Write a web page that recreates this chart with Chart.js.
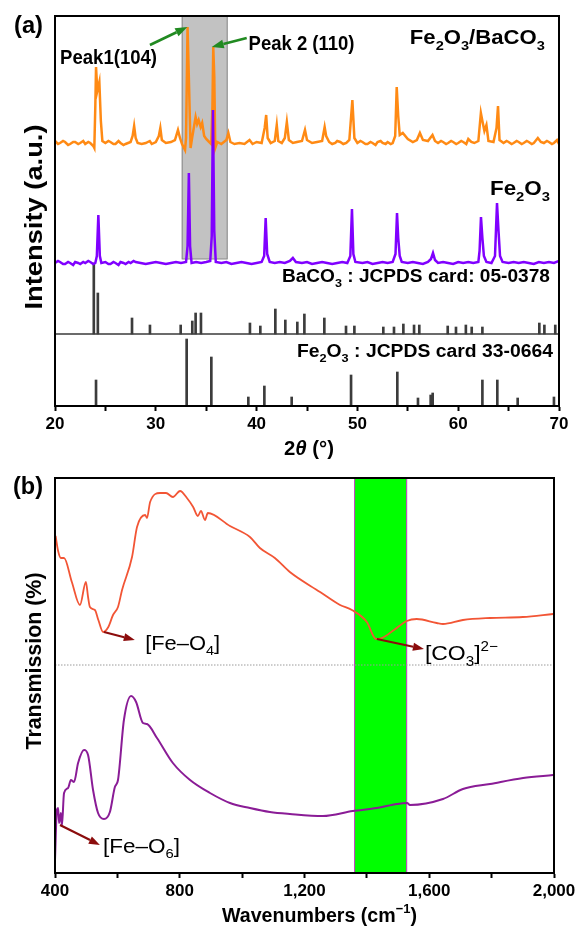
<!DOCTYPE html>
<html>
<head>
<meta charset="utf-8">
<script src="https://cdn.jsdelivr.net/npm/chart.js@4.4.1/dist/chart.umd.min.js"></script>
<style>
html,body{margin:0;padding:0;background:#fff;}
#wrap{position:relative;width:580px;height:926px;overflow:hidden;}
#ca{position:absolute;left:0;top:0;}
#cb{position:absolute;left:0;top:462px;}
</style>
</head>
<body>
<div id="wrap">
<canvas id="ca" width="580" height="462"></canvas>
<canvas id="cb" width="580" height="464"></canvas>
</div>
<script>
// ---------------- DATA ----------------
// (a) XRD
const xrdTicks = [20, 30, 40, 50, 60, 70];
const orangeTheta = [20.0,20.3,20.5,20.8,21.0,21.3,21.5,21.8,22.0,22.3,22.5,22.8,23.0,23.3,23.5,23.8,23.9,
24.0,24.07,24.2,24.4,24.55,24.7,25.0,25.3,25.5,25.8,26.0,26.3,26.5,26.8,
27.0,27.5,27.7,27.85,28.0,28.2,28.6,29.0,29.4,29.6,
30.0,30.3,30.45,30.6,31.0,31.5,31.9,32.2,32.4,32.6,
32.9,33.0,33.15,33.3,33.45,33.6,33.8,33.95,34.1,34.25,
34.45,34.6,34.8,35.0,35.3,35.5,35.62,35.7,35.8,35.9,
36.1,36.5,37.0,37.2,37.4,37.8,38.3,38.8,39.3,39.6,
40.0,40.5,40.8,40.95,41.1,41.4,41.8,42.0,42.15,42.5,
42.8,43.0,43.2,43.6,44.0,44.5,44.8,45.0,45.5,46.0,
46.5,46.75,46.9,47.2,47.5,47.8,48.0,48.3,48.6,48.9,49.2,49.5,49.7,
50.0,50.3,50.5,50.8,51.0,51.3,51.5,51.8,52.0,52.3,52.5,52.8,53.0,53.3,53.5,53.75,53.9,
54.05,54.2,54.5,55.0,55.5,55.9,56.2,56.5,57.0,57.45,
57.7,58.0,58.3,58.5,58.8,59.0,59.3,59.5,59.8,60.0,60.3,60.5,60.8,61.0,61.3,61.6,62.0,
62.25,62.4,62.6,62.8,63.0,63.5,63.8,63.95,64.1,64.5,
64.8,65.0,65.3,65.5,65.8,66.0,66.3,66.5,66.8,67.0,67.3,67.5,67.9,68.2,68.5,68.8,69.0,
69.3,69.5,69.8,70.0];
const orangeCounts = [265,262,263,265,264,261,262,264,264,262,263,265,262,264,263,260,258,
300,339,315,324,285,265,263,265,264,262,262,265,263,261,
262,264,270,280,268,263,262,263,265,262,
264,270,278,266,263,264,266,276,268,262,
256,268,379,320,258,268,280,289,282,286,
279,283,270,267,264,262,300,359,330,258,
264,262,266,273,264,262,263,262,266,262,
264,263,278,291,268,263,265,281,265,263,
268,284,266,263,264,265,276,266,263,264,
265,279,270,264,262,263,265,264,262,263,266,306,268,
263,265,264,262,262,264,263,261,264,265,263,262,264,262,263,270,319,
290,271,273,267,264,266,273,266,265,271,
265,263,265,264,262,263,265,264,262,263,265,264,262,267,264,263,265,
293,285,275,281,265,264,278,300,266,263,
265,264,262,263,265,264,262,263,265,264,262,263,268,264,263,265,264,
262,263,266,262];
const purpleTheta = [20.0,20.3,20.5,20.8,21.0,21.3,21.5,21.8,22.0,22.3,22.5,22.8,23.0,23.3,23.5,23.8,24.0,24.15,
24.3,24.45,24.6,25.0,25.3,25.5,25.8,26.0,26.3,26.5,26.8,27.0,27.3,27.5,27.8,28.0,
28.5,29.0,29.5,30.0,30.5,31.0,31.5,32.0,32.5,33.0,
33.15,33.28,33.4,33.55,34.0,34.5,35.0,35.4,35.55,35.67,
35.8,35.95,36.5,37.0,37.5,38.0,38.5,39.0,39.5,40.0,
40.5,40.75,40.9,41.05,41.3,41.8,42.3,42.8,43.3,43.6,
43.9,44.5,45.0,45.5,46.0,46.5,47.0,47.5,48.0,48.5,
49.0,49.3,49.46,49.6,49.8,50.5,51.0,51.5,52.0,52.5,
53.0,53.5,53.78,53.93,54.05,54.2,54.4,55.0,55.5,56.0,
56.5,57.0,57.3,57.5,57.7,58.0,58.5,59.0,59.5,60.0,
60.5,61.0,61.5,62.0,62.12,62.26,62.4,62.55,62.8,63.3,
63.65,63.85,64.0,64.15,64.4,65.0,65.5,66.0,66.5,67.0,
67.5,68.0,68.5,69.0,69.5,70.0];
const purpleCounts = [143,145,144,142,142,144,143,141,144,143,142,144,143,145,144,142,143,150,
191,150,143,144,142,142,144,143,141,144,143,142,144,143,145,144,
143,142,143,144,143,142,143,144,143,144,
160,233,160,143,144,143,144,145,170,296,
175,144,143,144,142,143,144,143,142,143,
144,150,188,152,144,143,144,143,145,148,
144,143,144,142,143,144,143,142,143,144,
143,150,197,152,144,143,144,142,143,144,
143,144,152,193,168,150,144,143,144,143,
142,144,147,153,146,143,144,143,142,144,
143,144,143,144,155,189,168,150,144,143,
150,203,175,150,144,143,144,143,144,143,
142,144,143,144,143,145];
// reference cards (stick patterns)
const bacoBase = 72;
const bacoPos = [23.85,24.25,27.64,29.42,32.47,33.62,33.95,34.48,39.34,40.37,41.86,42.85,44.04,44.74,46.72,48.87,49.7,52.57,53.63,54.56,55.62,56.14,58.96,59.78,60.76,61.34,62.4,68.05,68.55,69.63];
const bacoTop = [143,113,88,81,81,85,93,93,83,80,97,86,84,92,88,80,80,79,79,82,81,81,80,79,81,79,79,83,81,81];
const hemBase = 0;
const hemPos = [24.07,33.06,35.51,39.18,40.77,43.48,49.37,53.96,56.01,57.27,57.47,62.4,63.88,65.9,69.5];
const hemTop = [26,67,49,9,20,9,31,34,8,11,13,26,26,8,9];

// (b) FTIR
const ftirTicks = [400, 800, 1200, 1600, 2000];
const ftirWaveA = [402,410,419,429,454,480,499,506,512,528,539,554,571,586,602,615,647,663,689,695,705,737,756,778,801,823,843,858,868,881,890,961,1025,1057,1105,1153,1250,1314,1352,1400,1429,1448,1487,1528,1560,1624,1644,1708,1795,1900,1997];
const ftirTransA = [337,322,315,315,291,268,291,276,266,263,253,241,246,258,266,283,316,346,358,355,371,380,380,376,382,375,366,357,362,353,360,347,336,325,315,301,281,268,263,251,234,235,243,252,254,250,249,253,255,256,259];
const ftirWaveB = [400,406,410,413,419,422,429,442,451,461,474,493,506,522,538,557,576,592,602,621,644,660,682,695,727,778,833,897,961,1025,1089,1153,1259,1355,1432,1497,1529,1538,1644,1708,1795,1901,1997];
const ftirTransB = [13,63,65,50,60,47,80,85,93,91,110,123,118,83,60,54,61,86,93,153,177,171,150,149,135,110,93,80,70,65,61,59,57,62,65,69,70,68,74,84,89,95,98];
const carbonateBand = [1359, 1529];
const xrdBand = [32.57, 37.13];
const refLine = 208;

// ---------------- HELPERS ----------------
const FAM = '"Liberation Sans", Arial, Helvetica, sans-serif';
Chart.defaults.font.family = FAM;
Chart.defaults.color = '#000';

function rich(ctx, parts, x, y, size, o = {}) {
  const weight = o.weight || 'bold';
  const segs = parts.map(p => {
    if (typeof p === 'string') p = {t: p};
    const s = (p.sub || p.sup) ? size * 0.66 : size;
    const font = (p.it ? 'italic ' : '') + weight + ' ' + s + 'px ' + FAM;
    ctx.font = font;
    return {t: p.t, font, w: ctx.measureText(p.t).width, dy: p.sub ? size * 0.27 : (p.sup ? -size * 0.42 : 0)};
  });
  const natural = segs.reduce((a, s) => a + s.w, 0);
  const sx = o.width ? o.width / natural : 1;
  const total = natural * sx;
  ctx.save();
  ctx.translate(x, y);
  if (o.rotate) ctx.rotate(o.rotate);
  const start = o.align === 'center' ? -total / 2 : (o.align === 'right' ? -total : 0);
  ctx.translate(start, 0);
  ctx.scale(sx, 1);
  ctx.fillStyle = o.color || '#000';
  ctx.textBaseline = 'alphabetic';
  ctx.textAlign = 'left';
  let cx = 0;
  for (const s of segs) { ctx.font = s.font; ctx.fillText(s.t, cx, s.dy); cx += s.w; }
  ctx.restore();
}

function arrow(ctx, x0, y0, x1, y1, color, lw, hl, hw) {
  const a = Math.atan2(y1 - y0, x1 - x0);
  const bx = x1 - hl * Math.cos(a), by = y1 - hl * Math.sin(a);
  ctx.save();
  ctx.strokeStyle = color; ctx.fillStyle = color; ctx.lineWidth = lw; ctx.lineCap = 'butt';
  ctx.beginPath(); ctx.moveTo(x0, y0); ctx.lineTo(bx, by); ctx.stroke();
  ctx.beginPath(); ctx.moveTo(x1, y1);
  ctx.lineTo(bx + hw / 2 * Math.sin(a), by - hw / 2 * Math.cos(a));
  ctx.lineTo(bx - hw / 2 * Math.sin(a), by + hw / 2 * Math.cos(a));
  ctx.closePath(); ctx.fill();
  ctx.restore();
}

function pts(xs, ys) { return xs.map((x, i) => ({x, y: ys[i]})); }
function sticks(xs, tops, base) { return xs.map((x, i) => ({x, y: [base, tops[i]]})); }

function boxPlugin(id) {
  return {
    id,
    afterDraw(chart) {
      const {ctx, chartArea: a} = chart;
      ctx.save();
      ctx.strokeStyle = '#000'; ctx.lineWidth = 2;
      ctx.strokeRect(a.left, a.top, a.right - a.left, a.bottom - a.top);
      ctx.restore();
    }
  };
}

// ---------------- PANEL (a) ----------------
const panelA = {
  id: 'panelA',
  beforeDatasetsDraw(chart) {
    const {ctx, chartArea: a, scales: {x, y}} = chart;
    ctx.save();
    const x0 = x.getPixelForValue(xrdBand[0]), x1 = x.getPixelForValue(xrdBand[1]);
    const yb = y.getPixelForValue(147);
    ctx.fillStyle = '#c2c2c2';
    ctx.fillRect(x0, a.top, x1 - x0, yb - a.top);
    ctx.strokeStyle = '#8a8a8a'; ctx.lineWidth = 1;
    ctx.strokeRect(x0 + 0.5, a.top, x1 - x0 - 1, yb - a.top);
    const ys = y.getPixelForValue(bacoBase);
    ctx.strokeStyle = '#3a3a3a'; ctx.lineWidth = 1.3;
    ctx.beginPath(); ctx.moveTo(a.left, ys); ctx.lineTo(a.right, ys); ctx.stroke();
    ctx.restore();
  },
  afterDraw(chart) {
    const {ctx, chartArea: a, scales: {x, y}} = chart;
    const X = v => x.getPixelForValue(v), Y = v => y.getPixelForValue(v);
    arrow(ctx, X(29.42), Y(361), X(33.13), Y(379), '#218a21', 2.6, 12, 9);
    arrow(ctx, X(39.02), Y(368), X(35.55), Y(359), '#218a21', 2.6, 12, 9);
    rich(ctx, ['Peak1(104)'], X(20.5), Y(342), 20, {width: 97});
    rich(ctx, ['Peak 2 (110)'], X(39.2), Y(356), 21, {width: 106});
    rich(ctx, ['Fe', {t: '2', sub: 1}, 'O', {t: '3', sub: 1}, '/BaCO', {t: '3', sub: 1}], X(55.2), Y(362), 20.5, {width: 135});
    rich(ctx, ['Fe', {t: '2', sub: 1}, 'O', {t: '3', sub: 1}], X(63.15), Y(211), 20.5, {width: 60});
    rich(ctx, ['BaCO', {t: '3', sub: 1}, ' : JCPDS card: 05-0378'], X(69.1), Y(124), 17.5, {width: 268, align: 'right'});
    rich(ctx, ['Fe', {t: '2', sub: 1}, 'O', {t: '3', sub: 1}, ' : JCPDS card 33-0664'], X(44.0), Y(49), 17.5, {width: 256});
    rich(ctx, ['(a)'], 14, a.top + 17, 23, {width: 29});
    rich(ctx, ['2', {t: 'θ', it: 1}, ' (°)'], (a.left + a.right) / 2 + 2, a.bottom + 49, 20, {width: 50, align: 'center'});
    rich(ctx, ['Intensity (a.u.)'], 41.5, a.top + 201, 23, {width: 185, align: 'center', rotate: -Math.PI / 2});
  }
};

new Chart(document.getElementById('ca'), {
  type: 'line',
  data: {
    datasets: [
      {label: 'Fe2O3', data: pts(purpleTheta, purpleCounts), borderColor: '#8000ff', borderWidth: 2.5, pointRadius: 0, tension: 0, order: 0},
      {label: 'Fe2O3/BaCO3', data: pts(orangeTheta, orangeCounts), borderColor: '#ff8a14', borderWidth: 2.5, pointRadius: 0, tension: 0, order: 1},
      {type: 'bar', label: 'BaCO3 JCPDS 05-0378', data: sticks(bacoPos, bacoTop, bacoBase), backgroundColor: '#3c3c3c', barThickness: 2, grouped: false, order: 2},
      {type: 'bar', label: 'Fe2O3 JCPDS 33-0664', data: sticks(hemPos, hemTop, hemBase), backgroundColor: '#3c3c3c', barThickness: 2, grouped: false, order: 3}
    ]
  },
  options: {
    responsive: false, animation: false, devicePixelRatio: 1,
    layout: {padding: {top: 16, right: 21, left: 0, bottom: 0}},
    plugins: {legend: {display: false}, tooltip: {enabled: false}},
    scales: {
      x: {
        type: 'linear', min: 20, max: 70, offset: false,
        grid: {display: true, drawOnChartArea: false, drawTicks: true, tickLength: 5, tickWidth: 2, tickColor: '#000', offset: false},
        border: {display: true, color: '#000', width: 2},
        ticks: {stepSize: 5, autoSkip: false, maxRotation: 0, padding: 3, font: {size: 17, weight: 'bold'}, color: '#000',
          callback: v => xrdTicks.includes(v) ? String(v) : ''},
        afterFit: s => { s.height = 56; }
      },
      y: {
        type: 'linear', min: 0, max: 390,
        grid: {display: false}, ticks: {display: false},
        border: {display: true, color: '#000', width: 2},
        afterFit: s => { s.width = 55; }
      }
    }
  },
  plugins: [panelA, boxPlugin('boxA')]
});

// ---------------- PANEL (b) ----------------
const panelB = {
  id: 'panelB',
  beforeDatasetsDraw(chart) {
    const {ctx, chartArea: a, scales: {x, y}} = chart;
    ctx.save();
    const x0 = x.getPixelForValue(carbonateBand[0]), x1 = x.getPixelForValue(carbonateBand[1]);
    ctx.fillStyle = '#00ff00';
    ctx.fillRect(x0, a.top, x1 - x0, a.bottom - a.top);
    ctx.strokeStyle = '#d23cd2'; ctx.lineWidth = 1;
    ctx.strokeRect(x0 + 0.5, a.top + 0.5, x1 - x0 - 1, a.bottom - a.top - 1);
    const yr = y.getPixelForValue(refLine);
    ctx.strokeStyle = '#9a9a9a'; ctx.lineWidth = 1; ctx.setLineDash([1.5, 1.5]);
    ctx.beginPath(); ctx.moveTo(a.left, yr); ctx.lineTo(a.right, yr); ctx.stroke();
    ctx.restore();
  },
  afterDraw(chart) {
    const {ctx, chartArea: a, scales: {x, y}} = chart;
    const X = v => x.getPixelForValue(v), Y = v => y.getPixelForValue(v);
    const red = '#8b0c0c';
    arrow(ctx, X(557), Y(241), X(656), Y(233), red, 2.2, 11, 8);
    arrow(ctx, X(1432), Y(234), X(1583), Y(224), red, 2.2, 11, 8);
    arrow(ctx, X(416), Y(48), X(544), Y(28), red, 2.2, 11, 8);
    rich(ctx, ['[Fe–O', {t: '4', sub: 1}, ']'], X(689), Y(223), 20, {weight: 'normal', width: 75});
    rich(ctx, ['[CO', {t: '3', sub: 1}, ']', {t: '2−', sup: 1}], X(1586), Y(213), 21, {weight: 'normal', width: 73});
    rich(ctx, ['[Fe–O', {t: '6', sub: 1}, ']'], X(554), Y(20), 20, {weight: 'normal', width: 77});
    rich(ctx, ['(b)'], 13, a.top + 16, 23, {width: 30});
    rich(ctx, ['Wavenumbers (cm', {t: '−1', sup: 1}, ')'], 319.5, a.bottom + 48.5, 20, {width: 195, align: 'center'});
    rich(ctx, ['Transmission (%)'], 40.7, a.top + 183, 21.5, {width: 177, align: 'center', rotate: -Math.PI / 2});
  }
};

new Chart(document.getElementById('cb'), {
  type: 'line',
  data: {
    datasets: [
      {label: 'Fe2O3/BaCO3', data: pts(ftirWaveA, ftirTransA), borderColor: '#f25535', borderWidth: 1.8, pointRadius: 0, cubicInterpolationMode: 'monotone'},
      {label: 'Fe2O3', data: pts(ftirWaveB, ftirTransB), borderColor: '#8a1c96', borderWidth: 2, pointRadius: 0, cubicInterpolationMode: 'monotone'}
    ]
  },
  options: {
    responsive: false, animation: false, devicePixelRatio: 1,
    layout: {padding: {top: 16, right: 26, left: 0, bottom: 0}},
    plugins: {legend: {display: false}, tooltip: {enabled: false}},
    scales: {
      x: {
        type: 'linear', min: 400, max: 2000, offset: false,
        grid: {display: true, drawOnChartArea: false, drawTicks: true, tickLength: 5, tickWidth: 2, tickColor: '#000'},
        border: {display: true, color: '#000', width: 2},
        ticks: {stepSize: 200, autoSkip: false, maxRotation: 0, padding: 3, font: {size: 17, weight: 'bold'}, color: '#000',
          callback: v => ftirTicks.includes(v) ? v.toLocaleString('en-US') : ''},
        afterFit: s => { s.height = 53; }
      },
      y: {
        type: 'linear', min: 0, max: 395,
        grid: {display: false}, ticks: {display: false},
        border: {display: true, color: '#000', width: 2},
        afterFit: s => { s.width = 55; }
      }
    }
  },
  plugins: [panelB, boxPlugin('boxB')]
});
</script>
</body>
</html>
